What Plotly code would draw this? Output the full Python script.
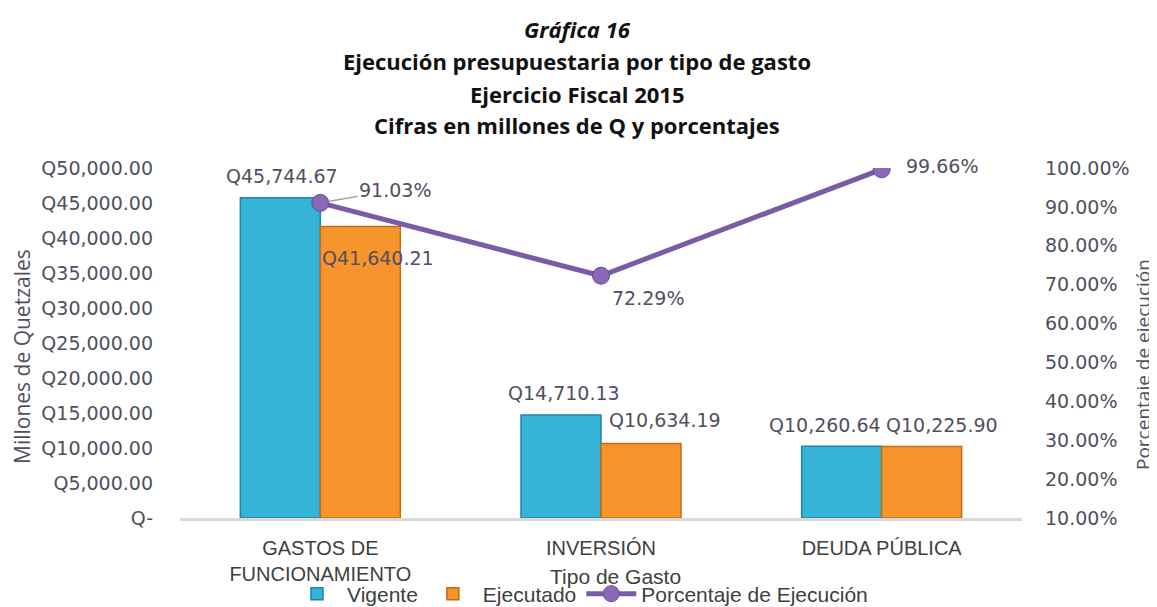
import plotly.graph_objects as go

categories = ["GASTOS DE<br>FUNCIONAMIENTO", "INVERSIÓN", "DEUDA PÚBLICA"]
vigente = [45744.67, 14710.13, 10260.64]
ejecutado = [41640.21, 10634.19, 10225.90]
porcentaje = [91.03, 72.29, 99.66]

left_ticks = [0, 5000, 10000, 15000, 20000, 25000, 30000, 35000, 40000, 45000, 50000]
left_tick_text = ["Q-"] + ["Q{:,.2f}".format(v) for v in left_ticks[1:]]
right_ticks = [10, 20, 30, 40, 50, 60, 70, 80, 90, 100]
right_tick_text = ["{:.2f}%".format(v) for v in right_ticks]

title_lines = [
    "<i>Gráfica 16</i>",
    "Ejecución presupuestaria por tipo de gasto",
    "Ejercicio Fiscal 2015",
    "Cifras en millones de Q y porcentajes",
]

# ---- layout constants ----
# The page body adds an 8px offset, so the figure is drawn at (8, 8).
OFF = 8
W, H = 1157 - OFF, 607 - OFF
PLOT_X0, PLOT_X1 = 180, 1022   # reference-page pixels
PLOT_Y0, PLOT_Y1 = 168, 518
L = PLOT_X0 - OFF
R = W - (PLOT_X1 - OFF)
T = PLOT_Y0 - OFF
B = H - (PLOT_Y1 - OFF)
PW = PLOT_X1 - PLOT_X0
PH = PLOT_Y1 - PLOT_Y0


def px_x(x):
    return (x - PLOT_X0) / PW


def px_y(y):
    return (PLOT_Y1 - y) / PH


NUM_FONT = "DejaVu Sans"
TXT_FONT = "Liberation Sans, Arial, sans-serif"
GRAY = "#50505e"

fig = go.Figure()
fig.add_trace(go.Bar(
    x=categories, y=vigente, name="Vigente",
    marker=dict(color="#35B4D8", line=dict(color="#1F86A4", width=1.5)),
))
fig.add_trace(go.Bar(
    x=categories, y=ejecutado, name="Ejecutado",
    marker=dict(color="#F7952C", line=dict(color="#C46B14", width=1.5)),
))
fig.add_trace(go.Scatter(
    x=categories, y=porcentaje, name="Porcentaje de Ejecución", yaxis="y2",
    mode="lines+markers",
    line=dict(color="#7B5AA6", width=5),
    marker=dict(size=17, color="#8C68B8", line=dict(color="#6A4C96", width=1)),
))

annotations = []
# title lines
title_y = [29, 61, 94, 125]
for line, ty in zip(title_lines, title_y):
    annotations.append(dict(
        text="<b>" + line + "</b>", xref="paper", yref="paper",
        x=px_x(577), y=px_y(ty), showarrow=False,
        xanchor="center", yanchor="middle",
        font=dict(family="Open Sans, sans-serif", size=22, color="#111111"),
    ))

# bar labels (pixel offsets from bar top-centre)
vig_offsets = [(2, 22), (3, 22), (-17, 21)]
eje_offsets = [(18, -31), (24, 24), (20, 21)]
for cat, v, (dx, dy) in zip(categories, vigente, vig_offsets):
    annotations.append(dict(
        x=cat, y=v, text="Q{:,.2f}".format(v), showarrow=False,
        xshift=-40 + dx, yshift=dy, xanchor="center", yanchor="middle",
        font=dict(family=NUM_FONT, size=19, color=GRAY),
    ))
for cat, v, (dx, dy) in zip(categories, ejecutado, eje_offsets):
    annotations.append(dict(
        x=cat, y=v, text="Q{:,.2f}".format(v), showarrow=False,
        xshift=40 + dx, yshift=dy, xanchor="center", yanchor="middle",
        font=dict(family=NUM_FONT, size=19, color=GRAY),
    ))

# line labels
line_offsets = [(75, -13, True), (47, 22, True), (60, -3, False)]
for cat, p, (ax, ay, arr) in zip(categories, porcentaje, line_offsets):
    annotations.append(dict(
        x=cat, y=p, yref="y2", text="{:.2f}%".format(p),
        showarrow=True, ax=ax, ay=ay, arrowhead=0, arrowwidth=1.5,
        arrowcolor="#A0A0A0" if arr else "rgba(0,0,0,0)", standoff=8,
        font=dict(family=NUM_FONT, size=19, color=GRAY),
    ))

# axis titles
annotations.append(dict(
    text="Millones de Quetzales", xref="paper", yref="paper",
    x=px_x(22), y=px_y(357), textangle=-90, showarrow=False,
    xanchor="center", yanchor="middle",
    font=dict(family="Open Sans, sans-serif", size=21, color=GRAY),
))
annotations.append(dict(
    text="Porcentaje de ejecución", xref="paper", yref="paper",
    x=px_x(1143), y=px_y(365), textangle=-90, showarrow=False,
    xanchor="center", yanchor="middle",
    font=dict(family="Open Sans, sans-serif", size=19, color=GRAY),
))
annotations.append(dict(
    text="Tipo de Gasto", xref="paper", yref="paper",
    x=px_x(615), y=px_y(576), showarrow=False,
    xanchor="center", yanchor="middle",
    font=dict(family=TXT_FONT, size=21, color="#404040"),
))

fig.update_layout(
    width=W, height=H,
    margin=dict(l=L, r=R, t=T, b=B, autoexpand=False),
    paper_bgcolor="white", plot_bgcolor="white",
    barmode="group", bargap=0.43, bargroupgap=0,
    showlegend=True,
    legend=dict(
        orientation="h", x=px_x(580), xanchor="center",
        y=px_y(594), yanchor="middle",
        font=dict(family=TXT_FONT, size=21, color="#404040"),
        bgcolor="rgba(0,0,0,0)", itemwidth=50,
    ),
    xaxis=dict(
        automargin=False,
        showline=True, linecolor="#D9D9D9", linewidth=3,
        showgrid=False, ticks="",
        tickfont=dict(family=TXT_FONT, size=20, color="#404040"),
        ticklabelstandoff=10,
    ),
    yaxis=dict(
        automargin=False,
        range=[0, 50000], tickvals=left_ticks, ticktext=left_tick_text,
        showgrid=False, zeroline=False, showline=False,
        tickfont=dict(family=NUM_FONT, size=19, color=GRAY),
        ticklabelstandoff=26,
    ),
    yaxis2=dict(
        automargin=False,
        range=[10, 100], tickvals=right_ticks, ticktext=right_tick_text,
        overlaying="y", side="right",
        showgrid=False, zeroline=False, showline=False,
        tickfont=dict(family=NUM_FONT, size=19, color=GRAY),
        ticklabelstandoff=22,
    ),
    annotations=annotations,
)

fig.write_html("out.html")
